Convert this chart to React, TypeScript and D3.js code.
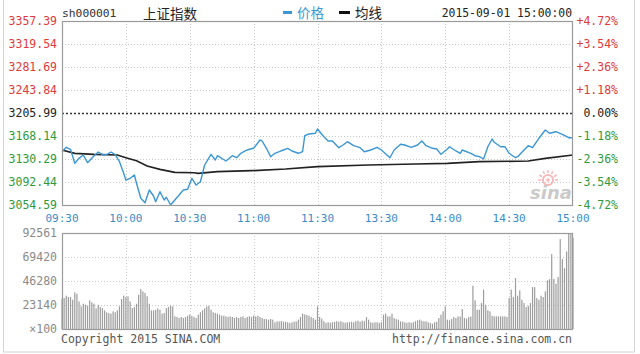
import React from "react";
import * as d3 from "d3";

// ---- data ----
const priceTicks = [3357.39, 3319.54, 3281.69, 3243.84, 3205.99, 3168.14, 3130.29, 3092.44, 3054.59];
const pctTicks = ["+4.72%", "+3.54%", "+2.36%", "+1.18%", "0.00%", "-1.18%", "-2.36%", "-3.54%", "-4.72%"];
const prevClose = 3205.99;
const timeLabels = ["09:30", "10:00", "10:30", "11:00", "11:30", "13:30", "14:00", "14:30", "15:00"];
const timeMinutes = [0, 30, 60, 90, 120, 150, 180, 210, 240];
const volTicks = [92561, 69420, 46280, 23140];

// [minute index, price]
const priceMinutes = [0, 2, 4, 6, 8, 10, 12, 15, 17, 19, 21, 23, 25, 27, 29, 30, 32, 34, 35, 37, 39, 41, 43, 44, 46, 48, 49, 51, 53, 55, 57, 59, 61, 63, 65, 67, 70, 72, 73, 77, 80, 82, 84, 86, 88, 90, 93, 94, 96, 98, 100, 102, 104, 106, 108, 111, 113, 114, 116, 119, 120, 123, 125, 127, 130, 132, 134, 137, 140, 142, 145, 148, 150, 153, 154, 156, 159, 161, 164, 167, 169, 171, 174, 176, 178, 181, 182, 185, 187, 188, 192, 194, 196, 198, 200, 202, 203, 206, 208, 210, 213, 214, 217, 219, 221, 224, 227, 229, 232, 235, 238, 240];
const priceValues = [3142.3, 3149.5, 3146.3, 3123.2, 3131.4, 3136.9, 3124.2, 3135.2, 3141.8, 3137.4, 3137.4, 3141.8, 3137.4, 3125.9, 3106.8, 3095.7, 3098.5, 3104.0, 3090.3, 3065.6, 3058.4, 3079.3, 3069.4, 3060.0, 3076.5, 3062.8, 3067.3, 3054.6, 3062.8, 3071.1, 3079.3, 3080.4, 3098.5, 3087.5, 3092.9, 3120.4, 3138.0, 3128.6, 3135.7, 3127.0, 3135.7, 3132.4, 3139.7, 3143.5, 3146.3, 3147.9, 3161.6, 3159.9, 3147.9, 3134.1, 3139.7, 3142.3, 3145.1, 3147.9, 3143.5, 3139.7, 3142.3, 3168.6, 3171.4, 3172.6, 3179.7, 3167.0, 3159.9, 3159.9, 3148.9, 3153.3, 3158.8, 3152.2, 3148.9, 3142.3, 3145.1, 3149.5, 3145.1, 3135.7, 3132.4, 3145.1, 3154.5, 3153.3, 3149.5, 3153.3, 3159.9, 3152.2, 3147.9, 3146.7, 3138.0, 3146.7, 3150.5, 3143.5, 3139.7, 3145.1, 3139.7, 3135.7, 3134.1, 3130.3, 3150.5, 3163.2, 3157.8, 3150.5, 3150.5, 3139.7, 3132.4, 3134.1, 3145.1, 3152.2, 3148.9, 3164.4, 3178.0, 3172.6, 3175.2, 3170.9, 3165.3, 3165.3];

const avgMinutes = [0, 6, 15, 26, 30, 35, 40, 46, 53, 62, 64, 73, 89, 105, 120, 144, 166, 181, 196, 219, 227, 240];
const avgValues = [3145.1, 3139.7, 3138.0, 3136.9, 3132.4, 3127.5, 3118.8, 3113.3, 3108.4, 3107.7, 3106.8, 3109.4, 3111.0, 3113.8, 3117.6, 3120.4, 3122.1, 3123.2, 3125.9, 3127.0, 3131.4, 3136.9];

// volume per minute (x100), minutes 0..240
const volumes = [
  28900, 29900, 32100, 30800, 30800, 28200, 35300, 34000, 26600, 21800,
  24400, 23400, 22500, 27600, 25700, 24400, 19900, 23400, 21200, 20200,
  18000, 16100, 15400, 14800, 17000, 16100, 18000, 21800, 28900, 32100,
  30800, 31500, 26600, 20200, 21200, 24400, 33100, 38500, 36300, 34700,
  31500, 24400, 18000, 18000, 18600, 19900, 18600, 14800, 15400, 20200,
  21200, 22500, 21800, 12200, 11600, 10600, 11600, 10600, 11600, 12800,
  13800, 12800, 11600, 10600, 13800, 16100, 18000, 19900, 21800, 22500,
  18600, 16100, 15400, 14800, 13800, 12800, 12800, 12200, 11600, 12200,
  11600, 10600, 11600, 10600, 11600, 12200, 10600, 11600, 12200, 11600,
  12800, 12200, 12800, 11600, 10600, 9600, 9600, 9000, 9600, 9000,
  6400, 7400, 7400, 7700, 7100, 7100, 6400, 5800, 6400, 7100,
  7400, 9000, 11600, 14800, 14100, 13500, 12800, 11600, 10600, 9000,
  21800,
  11500, 10000, 7500, 6000, 6500, 6000, 6500, 7000, 7500,
  7000, 7500, 6500, 6000, 6500, 6500, 7000, 6500, 7500, 8000,
  7000, 8000, 7500, 11500, 9000, 6500, 6000, 6500, 6500, 6000,
  6500, 13800, 14800, 12200, 12200, 14800, 10600, 9500, 9000, 7400,
  7000, 6500, 6000, 6500, 6000, 6500, 7500, 8400, 9000, 8000,
  7400, 7400, 6500, 5800, 5100, 6500, 7000, 10600, 13800, 17000,
  21800, 9000, 8400, 9600, 11500, 10600, 12200, 12000, 19300, 10600,
  10000, 11500, 12000, 41700, 27600, 18600, 18600, 25000, 37900, 23400,
  18000, 17000, 12800, 12200, 12200, 12200, 12200, 12200, 12200, 11500,
  29900, 37900, 30800, 49100, 32100, 37200, 28200, 25000, 21200, 22500,
  25000, 40400, 40400, 29900, 28200, 32100, 30800, 36300, 46900, 48000,
  72200, 48200, 43700, 50100, 86700, 67400, 58700, 74800, 92500, 92000,
  88000,
];

const MONO = "'DejaVu Sans Mono', 'Liberation Mono', monospace";
const CJK = "'Noto Sans CJK SC', sans-serif";
const RED = "#e0393b";
const GREEN = "#2f9a3c";
const BLUE = "#3b97d3";

export default function App() {
  const W = 640, H = 354;
  const L = 62, R = 573;
  const x = d3.scaleLinear().domain([0, 240]).range([L, R]);
  const y = d3.scaleLinear().domain([priceTicks[8], priceTicks[0]]).range([205, 21]);
  const yv = d3.scaleLinear().domain([0, volTicks[0]]).range([329, 233]);

  const lineGen = d3
    .line<[number, number]>()
    .x((d) => x(d[0]))
    .y((d) => y(d[1]));
  const priceLine = lineGen(priceMinutes.map((m, i) => [m, priceValues[i]] as [number, number]));
  const avgLine = lineGen(avgMinutes.map((m, i) => [m, avgValues[i]] as [number, number]));

  const labelColor = (v: number) => (v > prevClose + 0.001 ? RED : v < prevClose - 0.001 ? GREEN : "#222");
  const pctColor = (s: string) => (s.startsWith("+") ? RED : s.startsWith("-") ? GREEN : "#222");

  return (
    <svg
      width={W}
      height={H}
      style={{ position: "absolute", left: 0, top: 0, background: "#fff" }}
      xmlns="http://www.w3.org/2000/svg"
    >
      <rect x={0} y={0} width={W} height={H} fill="#fff" />
      {/* outer border */}
      <rect x={3.5} y={-2} width={631} height={354} fill="none" stroke="#d4d4d4" strokeWidth={1} />

      {/* header */}
      <text x={62} y={17} fontFamily={MONO} fontSize={11.3} fill="#333">sh000001</text>
      <text x={143} y={18.5} fontFamily={CJK} fontSize={13.5} fill="#222">上证指数</text>
      <line x1={283} x2={292} y1={12.5} y2={12.5} stroke={BLUE} strokeWidth={3} />
      <text x={297} y={18} fontFamily={CJK} fontSize={13.5} fill={BLUE}>价格</text>
      <line x1={339} x2={350} y1={12.5} y2={12.5} stroke="#111" strokeWidth={3} />
      <text x={355} y={18} fontFamily={CJK} fontSize={13.5} fill="#222">均线</text>
      <text x={572} y={17} textAnchor="end" fontFamily={MONO} fontSize={11.4} fill="#222">2015-09-01 15:00:00</text>

      {/* main grid */}
      {priceTicks.map((p, i) =>
        i === 0 || i === 8 || p === prevClose ? null : (
          <line key={"hg" + i} x1={L} x2={R} y1={Math.round(y(p)) + 0.5} y2={Math.round(y(p)) + 0.5} stroke="#c8c8c8" strokeDasharray="1,2" />
        )
      )}
      {timeMinutes.slice(1, 8).map((m, i) => (
        <line key={"vg" + i} x1={Math.round(x(m)) + 0.5} x2={Math.round(x(m)) + 0.5} y1={21} y2={205} stroke="#c8c8c8" strokeDasharray="1,2" />
      ))}
      <line x1={L} x2={R} y1={Math.round(y(prevClose)) + 0.5} y2={Math.round(y(prevClose)) + 0.5} stroke="#333" strokeWidth={1.4} strokeDasharray="2,2" />

      {/* sina watermark */}
      <g opacity={0.6}>
        <circle cx={548} cy={180} r={5} fill="none" stroke="#f08a8a" strokeWidth={2} />
        <circle cx={548} cy={180} r={1.8} fill="#f08a8a" />
        {[0, 1, 2, 3, 4, 5, 6].map((k) => {
          const a = Math.PI + (k * Math.PI) / 6;
          return (
            <line key={k} x1={548 + 7 * Math.cos(a)} y1={180 + 7 * Math.sin(a)} x2={548 + 10 * Math.cos(a)} y2={180 + 10 * Math.sin(a)} stroke="#f08a8a" strokeWidth={1.5} />
          );
        })}
        <text x={530} y={199} fontFamily="'DejaVu Sans', sans-serif" fontStyle="italic" fontWeight="bold" fontSize={18} fill="#a8a8a8">sina</text>
      </g>

      {/* lines */}
      <path d={avgLine || ""} fill="none" stroke="#222" strokeWidth={1.7} />
      <path d={priceLine || ""} fill="none" stroke={BLUE} strokeWidth={1.4} strokeLinejoin="round" />

      {/* main frame */}
      <rect x={L + 0.5} y={21.5} width={R - L - 1} height={184} fill="none" stroke="#9a9a9a" strokeWidth={1.2} />

      {/* left labels */}
      {priceTicks.map((p, i) => (
        <text key={"pl" + i} x={57} y={y(p) + 3.8} textAnchor="end" fontFamily={MONO} fontSize={11.5} fill={labelColor(p)}>
          {p.toFixed(2)}
        </text>
      ))}
      {/* right labels */}
      {pctTicks.map((s, i) => (
        <text key={"pr" + i} x={618} y={y(priceTicks[i]) + 3.8} textAnchor="end" fontFamily={MONO} fontSize={11.5} fill={pctColor(s)}>
          {s}
        </text>
      ))}
      {/* time labels */}
      {timeLabels.map((t, i) => (
        <text key={"t" + i} x={x(timeMinutes[i])} y={222} textAnchor="middle" fontFamily={MONO} fontSize={11} fill="#3a8cc8">
          {t}
        </text>
      ))}

      {/* volume grid */}
      {volTicks.slice(1).map((v, i) => (
        <line key={"vhg" + i} x1={L} x2={R} y1={Math.round(yv(v)) + 0.5} y2={Math.round(yv(v)) + 0.5} stroke="#c8c8c8" strokeDasharray="1,2" />
      ))}
      {timeMinutes.slice(1, 8).map((m, i) => (
        <line key={"vvg" + i} x1={Math.round(x(m)) + 0.5} x2={Math.round(x(m)) + 0.5} y1={233} y2={329} stroke="#c8c8c8" strokeDasharray="1,2" />
      ))}
      {/* volume bars */}
      {volumes.map((v, i) => (
        <rect key={"b" + i} x={x(i) - 0.6} y={yv(v)} width={1.2} height={yv(0) - yv(v)} fill="#9c9c9c" />
      ))}
      <rect x={L + 0.5} y={233.5} width={R - L - 1} height={96} fill="none" stroke="#9a9a9a" strokeWidth={1.2} />

      {/* volume labels */}
      {volTicks.map((v, i) => (
        <text key={"vl" + i} x={57} y={i === 0 ? 236.5 : yv(v) + 4} textAnchor="end" fontFamily={MONO} fontSize={11.5} fill="#8a8a8a">
          {v}
        </text>
      ))}
      <text x={57} y={yv(0) + 4} textAnchor="end" fontFamily={MONO} fontSize={11.5} fill="#8a8a8a">×100</text>

      {/* footer */}
      <text x={61} y={343} fontFamily={MONO} fontSize={11.5} fill="#555">Copyright 2015 SINA.COM</text>
      <text x={572} y={343} textAnchor="end" fontFamily={MONO} fontSize={11.5} fill="#555">http://finance.sina.com.cn</text>
    </svg>
  );
}
